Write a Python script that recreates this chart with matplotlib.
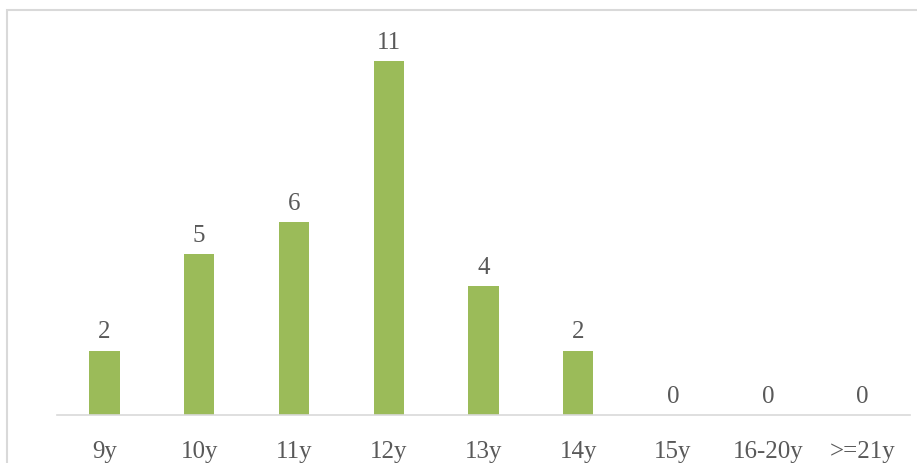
import matplotlib
matplotlib.use("Agg")
from matplotlib import pyplot as plt
from matplotlib.patches import Rectangle

# Age groups and counts
categories = ["9y", "10y", "11y", "12y", "13y", "14y", "15y", "16-20y", ">=21y"]
counts = [2, 5, 6, 11, 4, 2, 0, 0, 0]

bar_color = "#9BBB59"
text_color = "#595959"
plt.rcParams["font.family"] = ["Liberation Serif", "DejaVu Serif"]

fig = plt.figure(figsize=(9.17, 4.64), dpi=100)
fig.patch.set_facecolor("white")

# chart frame (runs off the right and bottom edges)
fig.patches.append(Rectangle((7 / 917, -0.1), 1.2, 1 - 11 / 464 + 0.1,
                             transform=fig.transFigure, fill=False,
                             edgecolor="#D9D9D9", linewidth=1.5))

ax = fig.add_axes([57 / 917, 48 / 464, 853 / 917, 386 / 464])
x = range(len(categories))
bars = ax.bar(x, counts, width=0.32, color=bar_color)

for xi, v in zip(x, counts):
    ax.annotate(str(v), (xi, v), xytext=(0, 6), textcoords="offset points",
                ha="center", va="bottom", fontsize=18, color=text_color)

ax.set_xlim(-0.5, len(categories) - 0.5)
ax.set_ylim(0, 12)
ax.set_xticks(list(x))
ax.set_xticklabels(categories, fontsize=18, color=text_color)
ax.tick_params(axis="x", length=0, pad=18)
ax.set_yticks([])
for s in ["top", "right", "left"]:
    ax.spines[s].set_visible(False)
ax.spines["bottom"].set_color("#D9D9D9")
ax.spines["bottom"].set_linewidth(1.2)

fig.savefig("out.png", dpi=100)
